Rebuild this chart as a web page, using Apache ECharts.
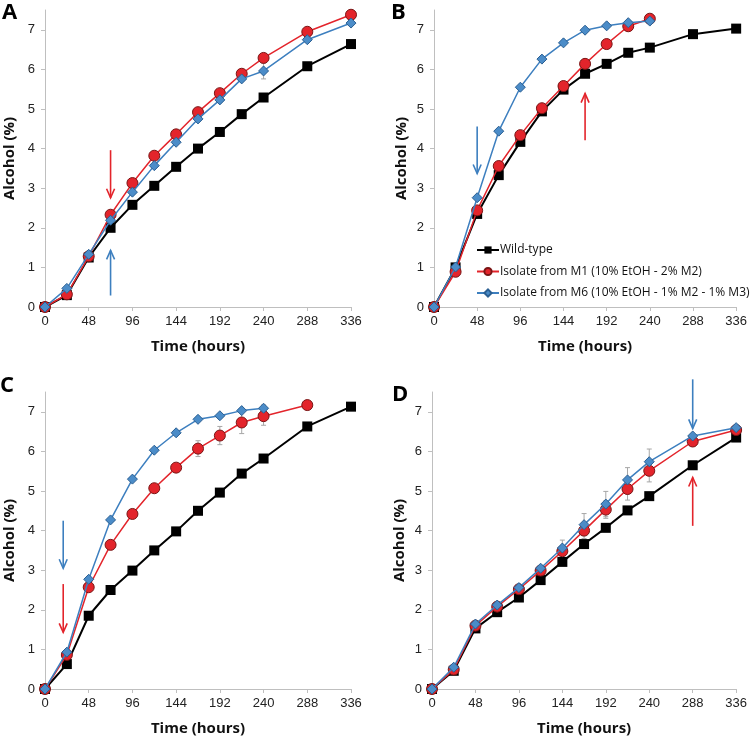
<!DOCTYPE html>
<html>
<head>
<meta charset="utf-8">
<script src="https://cdn.jsdelivr.net/npm/echarts@6/dist/echarts.min.js"></script>
<style>
html,body{margin:0;padding:0;background:#fff;}
#chart{width:750px;height:738px;}
</style>
</head>
<body>
<div id="chart"></div>
<script>
// Time points (hours)
const hours = [0, 24, 48, 72, 96, 120, 144, 168, 192, 216, 240, 288, 336];
const xTicks = [0, 48, 96, 144, 192, 240, 288, 336];
const yTicks = [0, 1, 2, 3, 4, 5, 6, 7];
const seriesNames = ['Wild-type', 'Isolate from M1 (10% EtOH - 2% M2)', 'Isolate from M6 (10% EtOH - 1% M2 - 1% M3)'];
const panelLetters = ['A', 'B', 'C', 'D'];

// Panel A
const aWild = [0, 0.30, 1.25, 2.00, 2.58, 3.06, 3.54, 4.00, 4.42, 4.87, 5.29, 6.08, 6.64];
const aM1   = [0, 0.32, 1.28, 2.33, 3.13, 3.82, 4.36, 4.92, 5.40, 5.89, 6.29, 6.95, 7.38];
const aM6   = [0, 0.47, 1.33, 2.19, 2.90, 3.57, 4.16, 4.75, 5.23, 5.76, 5.96, 6.75, 7.17];
// Panel B
const bWild = [0, 1.00, 2.35, 3.33, 4.17, 4.94, 5.49, 5.89, 6.14, 6.42, 6.55, 6.89, 7.03];
const bM1   = [0, 0.89, 2.44, 3.56, 4.34, 5.02, 5.58, 6.14, 6.64, 7.09, 7.28];
const bM6   = [0, 1.01, 2.76, 4.44, 5.55, 6.26, 6.67, 6.99, 7.10, 7.18, 7.22];
// Panel C
const cWild = [0, 0.63, 1.85, 2.50, 2.99, 3.50, 3.98, 4.50, 4.96, 5.44, 5.82, 6.63, 7.13];
const cM1   = [0, 0.86, 2.57, 3.64, 4.42, 5.07, 5.59, 6.07, 6.40, 6.73, 6.89, 7.17];
const cM1Hours = [0, 24, 48, 72, 96, 120, 144, 168, 192, 216, 240, 288];
const cM6   = [0, 0.93, 2.77, 4.27, 5.30, 6.03, 6.47, 6.81, 6.90, 7.03, 7.09];
// Panel D
const dWild = [0, 0.46, 1.53, 1.94, 2.31, 2.75, 3.21, 3.66, 4.07, 4.51, 4.87, 5.65, 6.35];
const dM1   = [0, 0.49, 1.60, 2.08, 2.52, 2.99, 3.48, 4.00, 4.53, 5.05, 5.51, 6.25, 6.54];
const dM6   = [0, 0.55, 1.64, 2.12, 2.56, 3.05, 3.56, 4.15, 4.67, 5.28, 5.74, 6.39, 6.60];

// Error bars: [hour, value, error]
const aErr = [[240, 5.96, 0.2]];
const bErr = [];
const cErr = [[168, 6.07, 0.2], [192, 6.40, 0.23], [216, 6.73, 0.28], [240, 6.89, 0.23], [240, 7.09, 0.08]];
const dErr = [[144, 3.56, 0.2], [168, 4.15, 0.28], [192, 4.67, 0.32], [216, 5.28, 0.31], [240, 5.74, 0.32],
              [168, 4.00, 0.2], [192, 4.53, 0.22], [216, 5.05, 0.28], [240, 5.51, 0.28]];

// Arrows: [hour, fromValue, toValue, colorIndex]
const aArrows = [[72, 3.96, 2.76, 1], [72, 0.29, 1.43, 2]];
const bArrows = [[48, 4.56, 3.37, 2], [168, 4.21, 5.39, 1]];
const cArrows = [[20, 4.25, 3.05, 2], [20, 2.65, 1.43, 1]];
const dArrows = [[288, 7.82, 6.58, 2], [288, 4.12, 5.34, 1]];

const panels = [
  {wild: aWild, m1: aM1, m1h: hours, m6: aM6, err: aErr, arrows: aArrows},
  {wild: bWild, m1: bM1, m1h: hours, m6: bM6, err: bErr, arrows: bArrows},
  {wild: cWild, m1: cM1, m1h: cM1Hours, m6: cM6, err: cErr, arrows: cArrows},
  {wild: dWild, m1: dM1, m1h: hours, m6: dM6, err: dErr, arrows: dArrows}
];

const colors = {
  line: ['#000000', '#e3242b', '#3d7fbf'],
  fill: ['#000000', '#e3242b', '#4b8cc8'],
  border: ['#000000', '#7a1515', '#2b5f92']
};

const grids = [
  {left: 45, top: 10, width: 306, height: 297},
  {left: 434, top: 10, width: 304, height: 297},
  {left: 45, top: 392, width: 306, height: 297},
  {left: 432, top: 392, width: 306, height: 297}
];
const yNameGap = [28, 25, 28, 25];

const chart = echarts.init(document.getElementById('chart'), null, {renderer: 'canvas'});

const axisLineStyle = {color: '#bfbfbf', width: 1};
const tickLabelStyle = {color: '#222', fontSize: 13, fontFamily: 'Liberation Sans, Arial, sans-serif'};
const titleStyle = {color: '#111', fontSize: 15, fontWeight: 'bold', fontFamily: 'Open Sans, sans-serif'};

const xAxes = grids.map((g, i) => ({
  gridIndex: i, type: 'value', min: 0, max: 336, interval: 48,
  name: 'Time (hours)', nameLocation: 'middle', nameGap: 32, nameTextStyle: titleStyle,
  axisLine: {show: true, lineStyle: axisLineStyle},
  axisTick: {show: true, length: 4, lineStyle: axisLineStyle},
  axisLabel: Object.assign({margin: 8}, tickLabelStyle),
  splitLine: {show: false}
}));
const yAxes = grids.map((g, i) => ({
  gridIndex: i, type: 'value', min: 0, max: 7.5, interval: 1,
  name: 'Alcohol (%)', nameLocation: 'middle', nameGap: yNameGap[i], nameRotate: 90, nameTextStyle: titleStyle,
  axisLine: {show: true, lineStyle: axisLineStyle},
  axisTick: {show: true, length: 4, lineStyle: axisLineStyle, customValues: yTicks},
  axisLabel: Object.assign({margin: 10, customValues: yTicks}, tickLabelStyle),
  splitLine: {show: false}
}));

const series = [];
panels.forEach((p, i) => {
  // error bars (drawn under points)
  series.push({
    type: 'custom', xAxisIndex: i, yAxisIndex: i, z: 1, silent: true,
    data: p.err,
    renderItem: function (params, api) {
      const x = api.value(0), v = api.value(1), e = api.value(2);
      const top = api.coord([x, v + e]);
      const bot = api.coord([x, v - e]);
      const style = {stroke: '#a6a6a6', lineWidth: 1, fill: null};
      return {type: 'group', children: [
        {type: 'line', shape: {x1: top[0], y1: top[1], x2: bot[0], y2: bot[1]}, style: style},
        {type: 'line', shape: {x1: top[0] - 2.5, y1: top[1], x2: top[0] + 2.5, y2: top[1]}, style: style},
        {type: 'line', shape: {x1: bot[0] - 2.5, y1: bot[1], x2: bot[0] + 2.5, y2: bot[1]}, style: style}
      ]};
    }
  });
  const defs = [
    {name: seriesNames[0], x: hours, y: p.wild, sym: 'rect', size: 10, lw: 2, k: 0},
    {name: seriesNames[1], x: p.m1h, y: p.m1, sym: 'circle', size: 11, lw: 1.5, k: 1},
    {name: seriesNames[2], x: hours, y: p.m6, sym: 'diamond', size: 10, lw: 1.5, k: 2}
  ];
  defs.forEach((d, j) => {
    series.push({
      name: d.name, type: 'line', xAxisIndex: i, yAxisIndex: i, z: 3 + j,
      data: d.y.map((v, t) => [d.x[t], v]),
      symbol: d.sym, symbolSize: d.size, showAllSymbol: true,
      lineStyle: {color: colors.line[d.k], width: d.lw},
      itemStyle: {color: colors.fill[d.k], borderColor: colors.border[d.k], borderWidth: d.k === 0 ? 0 : 1},
      emphasis: {disabled: true},
      animation: false
    });
  });
  // arrows
  series.push({
    type: 'custom', xAxisIndex: i, yAxisIndex: i, z: 10, silent: true, clip: false,
    data: p.arrows,
    renderItem: function (params, api) {
      const x = api.value(0);
      const from = api.coord([x, api.value(1)]);
      const to = api.coord([x, api.value(2)]);
      const col = colors.line[api.value(3)];
      const dir = to[1] > from[1] ? 1 : -1;
      const style = {stroke: col, lineWidth: 1.6, fill: 'none'};
      return {type: 'group', children: [
        {type: 'line', shape: {x1: from[0], y1: from[1], x2: to[0], y2: to[1]}, style: style},
        {type: 'polyline', shape: {points: [[to[0] - 4, to[1] - dir * 9], [to[0], to[1]], [to[0] + 4, to[1] - dir * 9]]}, style: style}
      ]};
    }
  });
});

const letterPos = [[2, 2], [391, 2], [0, 375], [392, 384]];
const graphics = panelLetters.map((L, i) => ({
  type: 'text', left: letterPos[i][0], top: letterPos[i][1],
  style: {text: L, font: 'bold 22px "Open Sans", Arial, sans-serif', fill: '#000'}
}));

chart.setOption({
  animation: false,
  backgroundColor: '#fff',
  grid: grids,
  xAxis: xAxes,
  yAxis: yAxes,
  legend: {
    data: seriesNames, orient: 'vertical', left: 476, top: 244,
    itemWidth: 22, itemHeight: 9, itemGap: 9.5, selectedMode: false, padding: 0,
    textStyle: {color: '#111', fontSize: 12, fontFamily: 'Open Sans, sans-serif', padding: [0, 0, 0, -4]}
  },
  graphic: graphics,
  series: series
});
</script>
</body>
</html>
